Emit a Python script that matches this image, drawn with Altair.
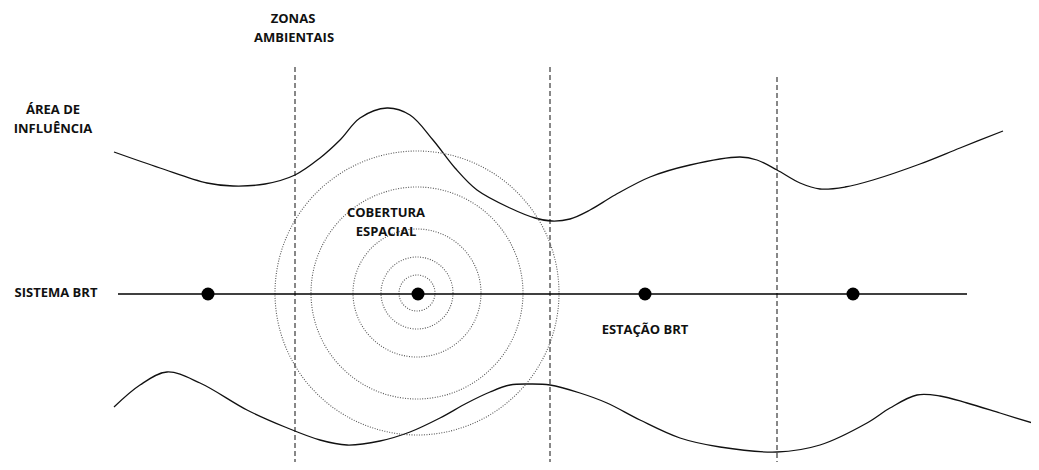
import altair as alt
import pandas as pd

# ---- data (screen-pixel coordinates) ----
top_x = [114, 160, 207, 233, 265, 295, 320, 340, 360, 387, 410, 433, 455, 477, 510, 535, 552, 570, 590, 615, 650, 690, 740, 757, 777, 800, 820, 845, 873, 920, 960, 1003]
top_y = [152, 168, 183, 186, 184, 175, 158, 140, 118, 108, 115, 140, 168, 190, 208, 218, 221, 219, 210, 195, 177, 165, 157, 160, 170, 183, 189, 187, 180, 164, 148, 131]

bot_x = [114, 140, 167, 200, 247, 285, 320, 347, 380, 410, 440, 467, 490, 510, 530, 550, 580, 607, 640, 680, 720, 777, 820, 867, 890, 917, 940, 967, 1000, 1039]
bot_y = [407, 385, 372, 383, 410, 427, 440, 445, 441, 432, 418, 403, 392, 385, 384, 385, 393, 403, 420, 438, 447, 452, 445, 423, 408, 395, 396, 403, 413, 425]

zone_x = [295, 550, 777]
zone_top = [67, 67, 77]
zone_bottom = 466

brt_y = 294
brt_x0, brt_x1 = 118, 967
station_x = [208, 418, 645, 853]

ring_cx, ring_cy = 417, 293
ring_r = [18, 36, 64, 106, 142]

label_text = ["ZONAS", "AMBIENTAIS", "ÁREA DE", "INFLUÊNCIA", "SISTEMA BRT",
              "COBERTURA", "ESPACIAL", "ESTAÇÃO BRT"]
label_x = [293, 294, 53, 53, 56, 386, 386, 645]
label_y = [19, 38, 110, 129, 293, 213, 232, 330]

# ---- scales: data units == page pixels ----
W, H = 1023, 454
xs = alt.Scale(domain=[8, 8 + W], nice=False, zero=False)
ys = alt.Scale(domain=[8 + H, 8], nice=False, zero=False)

def X(f="x"):
    return alt.X(f"{f}:Q", scale=xs, axis=None)

def Y(f="y"):
    return alt.Y(f"{f}:Q", scale=ys, axis=None)

curves = pd.concat([
    pd.DataFrame({"x": top_x, "y": top_y, "c": "top", "o": range(len(top_x))}),
    pd.DataFrame({"x": bot_x, "y": bot_y, "c": "bot", "o": range(len(bot_x))}),
])
zones = pd.DataFrame({"x": zone_x, "y": zone_top, "y2": [zone_bottom] * len(zone_x)})
brt = pd.DataFrame({"x": [brt_x0], "x2": [brt_x1], "y": [brt_y]})
stations = pd.DataFrame({"x": station_x, "y": [brt_y] * len(station_x)})
rings = pd.DataFrame({"x": [ring_cx] * len(ring_r), "y": [ring_cy] * len(ring_r), "r": ring_r})
labels = pd.DataFrame({"t": label_text, "x": label_x, "y": label_y})

zone_layer = alt.Chart(zones).mark_rule(
    color="#555555", strokeWidth=1.4, strokeDash=[5, 3]
).encode(x=X(), y=Y(), y2="y2:Q")

curve_layer = alt.Chart(curves).mark_line(
    color="#111111", strokeWidth=1.3, interpolate="catmull-rom"
).encode(x=X(), y=Y(), detail="c:N", order="o:Q")

ring_layer = alt.Chart(rings).transform_calculate(
    s="pow(2 * datum.r, 2)"
).mark_point(
    shape="circle", filled=False, color="#555555", strokeWidth=1.1,
    strokeDash=[1, 1.5], opacity=1
).encode(x=X(), y=Y(), size=alt.Size("s:Q", scale=None, legend=None))

brt_layer = alt.Chart(brt).mark_rule(color="#000000", strokeWidth=1.4).encode(
    x=X(), x2="x2:Q", y=Y()
)

station_layer = alt.Chart(stations).mark_point(
    shape="circle", filled=True, color="#000000", size=169, opacity=1
).encode(x=X(), y=Y())

text_layer = alt.Chart(labels).mark_text(
    font="Open Sans", fontWeight="bold", fontSize=13, color="#111111",
    align="center", baseline="middle"
).encode(x=X(), y=Y(), text="t:N")

chart = alt.layer(
    zone_layer, curve_layer, ring_layer, brt_layer, station_layer, text_layer
).properties(
    width=W, height=H, padding=0,
    autosize=alt.AutoSizeParams(type="none")
).configure_view(stroke=None)

chart.save("out.html", embed_options={"renderer": "svg", "actions": False})
